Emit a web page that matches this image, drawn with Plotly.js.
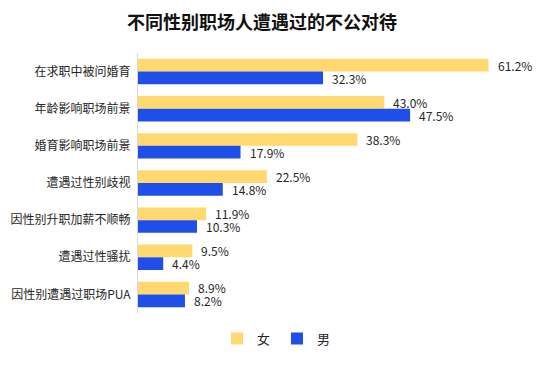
<!DOCTYPE html>
<html>
<head>
<meta charset="utf-8">
<script src="https://cdn.plot.ly/plotly-3.0.1.min.js"></script>
<style>html,body{margin:0;padding:0;background:#fff;}#chart{width:554px;height:365px;}</style>
</head>
<body>
<div id="chart"></div>
<script>
const categories = ["在求职中被问婚育","年龄影响职场前景","婚育影响职场前景","遭遇过性别歧视","因性别升职加薪不顺畅","遭遇过性骚扰","因性别遭遇过职场PUA"];
const female = [61.2, 43.0, 38.3, 22.5, 11.9, 9.5, 8.9];
const male = [32.3, 47.5, 17.9, 14.8, 10.3, 4.4, 8.2];
const seriesNames = ["女", "男"];
const colors = ["#FFD970", "#1F4FE8"];
const FONT = '"Noto Sans CJK SC", "Microsoft YaHei", sans-serif';

const traces = [female, male].map((vals, i) => ({
  type: 'bar', orientation: 'h', name: seriesNames[i],
  y: categories, x: vals,
  marker: {color: colors[i]},
  hoverinfo: 'none'
}));

const annotations = [];
[female, male].forEach((vals, i) => {
  vals.forEach((v, j) => {
    annotations.push({
      x: v, y: categories[j], xref: 'x', yref: 'y',
      text: v.toFixed(1) + '%', showarrow: false, borderpad: 0,
      xanchor: 'left', xshift: 8, yshift: i === 0 ? 6.5 : -6.5,
      font: {family: FONT, size: 12, color: '#262626'}
    });
  });
});

const layout = {
  width: 554, height: 365,
  margin: {l: 138, r: 15, t: 53, b: 46},
  paper_bgcolor: '#fff', plot_bgcolor: '#fff',
  font: {family: FONT, size: 12, color: '#262626'},
  title: {text: '<b>不同性别职场人遭遇过的不公对待</b>', xref: 'container', x: 262/554, xanchor: 'center',
          yref: 'container', y: 1 - 23/365, yanchor: 'middle',
          font: {family: FONT, size: 18, color: '#111'}},
  barmode: 'group', bargap: 0.316, bargroupgap: 0,
  xaxis: {range: [0, 70], autorange: false, showgrid: false, zeroline: false, showticklabels: false, showline: false, fixedrange: true},
  yaxis: {autorange: 'reversed', showline: true, linecolor: '#D9D9D9', linewidth: 1, ticks: '', showgrid: false,
          tickfont: {family: FONT, size: 12, color: '#262626'}, ticklabelstandoff: 4},
  showlegend: true,
  legend: {orientation: 'h', x: (277 - 138) / 401, xanchor: 'center', y: -0.098, yanchor: 'middle',
           font: {family: FONT, size: 13, color: '#262626'}, itemwidth: 30, traceorder: 'normal',
           entrywidth: 15, entrywidthmode: 'pixels'},
  annotations: annotations
};
Plotly.newPlot('chart', traces, layout, {displayModeBar: false, staticPlot: true});
</script>
</body>
</html>
